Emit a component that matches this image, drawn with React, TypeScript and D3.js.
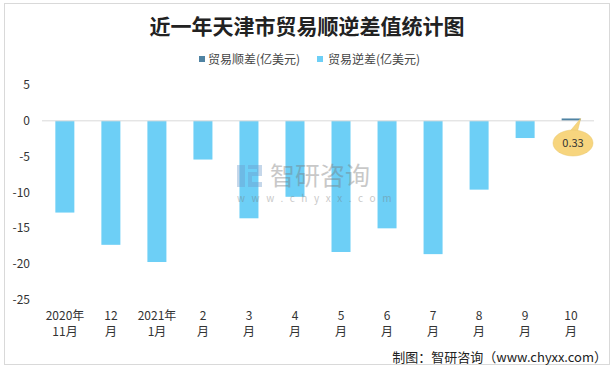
import React from 'react';
import * as d3 from 'd3';

// 月份标签（两行）
const labelTop = ['2020年', '12', '2021年', '2', '3', '4', '5', '6', '7', '8', '9', '10'];
const labelBottom = ['11月', '月', '1月', '月', '月', '月', '月', '月', '月', '月', '月', '月'];
// 贸易顺差 / 逆差 (亿美元)
const surplus = [0, 0, 0, 0, 0, 0, 0, 0, 0, 0, 0, 0.33];
const deficit = [-12.8, -17.3, -19.7, -5.4, -13.6, -10.6, -18.3, -15.0, -18.6, -9.6, -2.4, 0];
const yTicks = [5, 0, -5, -10, -15, -20, -25];

const W = 615;
const H = 369;
const FONT = '"Noto Sans CJK SC", "Noto Sans", sans-serif';

const App = () => {
  const idx = d3.range(labelTop.length);
  const x = d3.scaleBand<number>().domain(idx).range([42, 594]).paddingInner(0.587).paddingOuter(0.29);
  const band = d3.scaleBand<number>().domain(idx).range([42, 594]);
  const y = d3.scaleLinear().domain([-25, 5]).range([300, 85]);

  const light = '#6dcff6';
  const dark = '#4f83a3';
  const last = surplus.length - 1;
  const cx = x(last)! + x.bandwidth();

  return (
    <svg width={W} height={H} style={{ position: 'absolute', left: 0, top: 0, fontFamily: FONT }}>
      <rect x={4.5} y={3.5} width={605} height={361} fill="#fff" stroke="#d9d9d9" />
      <text x={307} y={34} textAnchor="middle" fontSize={21} fontWeight="bold" fill="#222">
        近一年天津市贸易顺逆差值统计图
      </text>

      {/* legend */}
      <rect x={199} y={56} width={6} height={6} fill={dark} />
      <text x={208} y={63.5} fontSize={12} fill="#444">贸易顺差(亿美元)</text>
      <rect x={317} y={56} width={6} height={6} fill={light} />
      <text x={328} y={63.5} fontSize={12} fill="#444">贸易逆差(亿美元)</text>

      {/* y axis labels */}
      {yTicks.map(t => (
        <text key={t} x={30} y={y(t) + 4} textAnchor="end" fontSize={12} fill="#333">{t}</text>
      ))}

      {deficit.map((v, i) => (
        <rect key={'d' + i} x={x(i)} width={x.bandwidth()} y={y(Math.max(0, v))}
          height={Math.abs(y(v) - y(0))} fill={light} />
      ))}
      {surplus.map((v, i) => (
        <rect key={'s' + i} x={x(i)} width={x.bandwidth()} y={y(Math.max(0, v))}
          height={Math.abs(y(v) - y(0))} fill={dark} />
      ))}

      <line x1={42} x2={594} y1={y(0)} y2={y(0)} stroke="#d9d9d9" strokeWidth={1} />

      {/* watermark */}
      <g opacity={0.4}>
        <rect x={237} y={165} width={8} height={22} fill="#6f9ccc" />
        <path d="M248 165 h14 v11 h-10 v6 h10 v5 h-14 v-15 h9 v-3 h-9 z" fill="#6f9ccc" />
        <text x={270} y={185} fontSize={25} fill="#777">智研咨询</text>
        <text x={237} y={202} fontSize={10} fill="#777" letterSpacing={6.6}>www.chyxx.com</text>
      </g>

      {/* data callout */}
      <path d={`M${cx - 12} ${y(0) + 12} L${cx} ${y(surplus[last])} L${cx - 4} ${y(0) + 14} Z`} fill="#f7d57e" stroke="#e8c66a" strokeWidth={0.5} />
      <ellipse cx={573} cy={143} rx={20} ry={13} fill="#f7d57e" stroke="#e8c66a" strokeWidth={0.5} />
      <text x={573} y={147} textAnchor="middle" fontSize={11} fill="#333">{surplus[last]}</text>

      {/* x labels */}
      {idx.map(i => (
        <g key={'l' + i}>
          <text x={band(i)! + band.bandwidth() / 2} y={320} textAnchor="middle" fontSize={12} fill="#333">{labelTop[i]}</text>
          <text x={band(i)! + band.bandwidth() / 2} y={336} textAnchor="middle" fontSize={12} fill="#333">{labelBottom[i]}</text>
        </g>
      ))}

      <text x={607} y={362} textAnchor="end" fontSize={13} fill="#222">制图：智研咨询（www.chyxx.com）</text>
    </svg>
  );
};

export default App;
